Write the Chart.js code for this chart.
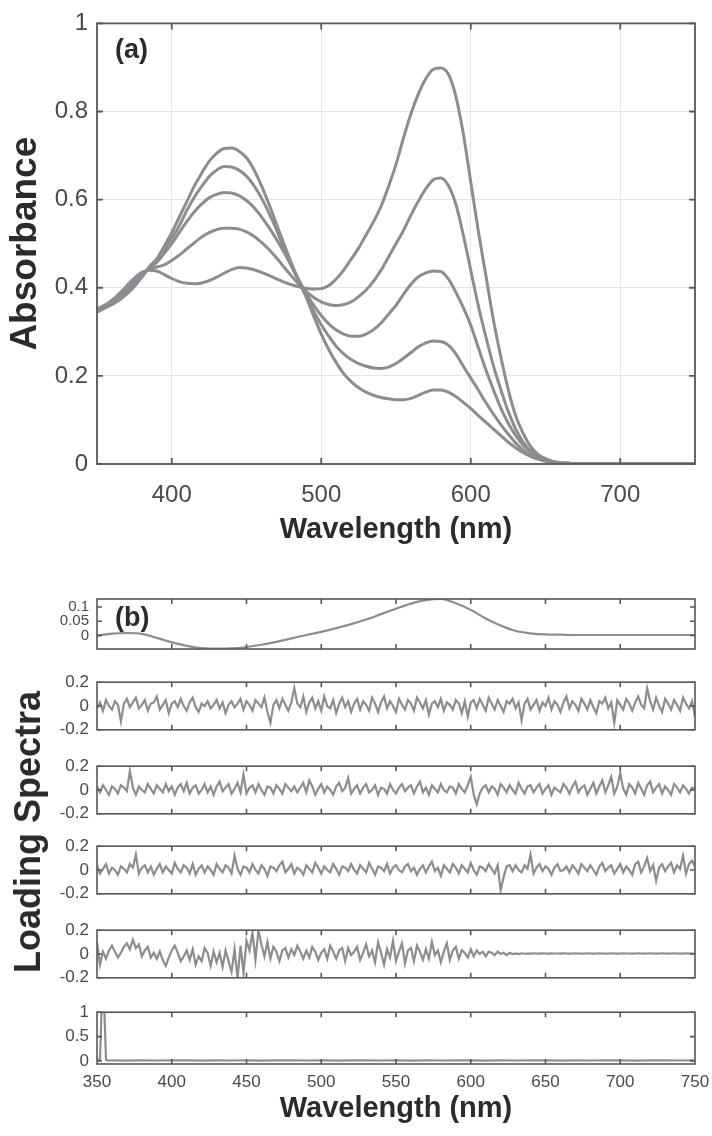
<!DOCTYPE html>
<html><head><meta charset="utf-8">
<script src="https://cdn.jsdelivr.net/npm/chart.js@4.4.0/dist/chart.umd.min.js"></script>
<style>
html,body{margin:0;padding:0;background:#fff;}
#wrap{position:relative;width:712px;height:1136px;overflow:hidden;background:#fff;}
canvas{position:absolute;left:0;}
#ylab{position:absolute;left:28px;top:832px;transform:translate(-50%,-50%) rotate(-90deg);font:bold 36px "Liberation Sans",Arial,sans-serif;color:#2b2b2b;white-space:nowrap;}
</style></head><body>
<div id="wrap">
<canvas id="cA" width="712" height="560" style="top:0"></canvas>
<canvas id="c1" width="712" height="84" style="top:582px"></canvas>
<canvas id="c2" width="712" height="84" style="top:664px"></canvas>
<canvas id="c3" width="712" height="84" style="top:748px"></canvas>
<canvas id="c4" width="712" height="84" style="top:828px"></canvas>
<canvas id="c5" width="712" height="84" style="top:912px"></canvas>
<canvas id="c6" width="712" height="142" style="top:994px"></canvas>
<div id="ylab">Loading Spectra</div>
</div>
<script>
// ---------- DATA ----------
const wavelengths = [
350,355,360,365,370,375,380,385,390,395,
400,405,410,415,420,425,430,435,440,445,
450,455,460,465,470,475,480,485,490,495,
500,505,510,515,520,525,530,535,540,545,
550,555,560,565,570,575,580,585,590,595,
600,605,610,615,620,625,630,635,640,645,
650,655,660,665,670,675,680,685,690,695,
700,705,710,715,720,725,730,735,740,745,
750];
const absA = [
.352,.360,.372,.387,.405,.422,.435,.440,.438,.430,
.421,.414,.410,.409,.411,.416,.424,.433,.441,.446,
.445,.441,.435,.428,.420,.413,.407,.402,.399,.397,
.398,.405,.420,.440,.465,.490,.520,.550,.585,.630,
.680,.740,.795,.840,.875,.896,.899,.885,.835,.750,
.640,.530,.430,.330,.245,.170,.110,.070,.040,.022,
.012,.006,.003,.0015,.001,.001,.001,.001,.001,.001,
.001,.001,.001,.001,.001,.001,.001,.001,.001,.001,
.001];
const absB = [
.350,.358,.369,.382,.398,.415,.430,.442,.447,.452,
.462,.474,.488,.502,.515,.525,.532,.535,.535,.533,
.527,.517,.503,.487,.468,.447,.427,.408,.392,.378,
.368,.362,.360,.362,.368,.380,.395,.415,.440,.470,
.500,.530,.565,.597,.625,.645,.649,.632,.590,.520,
.440,.360,.290,.225,.170,.120,.080,.050,.030,.017,
.010,.005,.003,.0015,.001,.001,.001,.001,.001,.001,
.001,.001,.001,.001,.001,.001,.001,.001,.001,.001,
.001];
const absC = [
.348,.356,.366,.378,.393,.410,.427,.444,.458,.478,
.500,.525,.550,.572,.590,.604,.612,.616,.615,.609,
.598,.582,.561,.537,.510,.481,.450,.418,.387,.360,
.337,.318,.304,.295,.290,.290,.295,.305,.320,.340,
.360,.385,.408,.425,.434,.438,.437,.420,.390,.355,
.315,.265,.215,.170,.128,.093,.065,.043,.027,.016,
.009,.005,.0025,.0015,.001,.001,.001,.001,.001,.001,
.001,.001,.001,.001,.001,.001,.001,.001,.001,.001,
.001];
const absD = [
.347,.355,.364,.375,.389,.406,.425,.446,.462,.487,
.512,.540,.575,.605,.630,.652,.667,.675,.674,.667,
.653,.632,.604,.570,.532,.490,.450,.415,.380,.347,
.316,.290,.267,.250,.237,.228,.222,.218,.217,.220,
.228,.240,.253,.266,.275,.279,.278,.270,.250,.222,
.195,.168,.140,.114,.090,.068,.048,.032,.020,.012,
.007,.004,.002,.0015,.001,.001,.001,.001,.001,.001,
.001,.001,.001,.001,.001,.001,.001,.001,.001,.001,
.001];
const absE = [
.345,.353,.362,.372,.386,.403,.424,.448,.466,.495,
.525,.560,.595,.630,.660,.687,.705,.716,.717,.710,
.695,.668,.632,.590,.545,.500,.456,.416,.378,.335,
.295,.260,.230,.205,.187,.173,.163,.156,.151,.148,
.146,.146,.149,.156,.163,.168,.168,.163,.153,.140,
.126,.110,.095,.080,.065,.050,.037,.026,.017,.011,
.006,.0035,.002,.0015,.001,.001,.001,.001,.001,.001,
.001,.001,.001,.001,.001,.001,.001,.001,.001,.001,
.001];

const loadWl = [350,360,370,380,390,400,410,420,430,440,450,460,470,480,490,500,510,520,530,540,
550,560,570,580,590,600,610,620,630,640,650,660,670,680,690,700,710,720,730,740,750];
const load1 = [
.000,.007,.009,.006,-.008,-.024,-.036,-.044,-.046,-.045,
-.040,-.032,-.022,-.010,.002,.013,.026,.040,.056,.075,
.094,.112,.124,.128,.113,.090,.060,.035,.016,.008,
.004,.003,.002,.002,.002,.002,.002,.002,.002,.002,
.002];

const noiseWl = [
350,352,354,356,358,360,362,364,366,368,
370,372,374,376,378,380,382,384,386,388,
390,392,394,396,398,400,402,404,406,408,
410,412,414,416,418,420,422,424,426,428,
430,432,434,436,438,440,442,444,446,448,
450,452,454,456,458,460,462,464,466,468,
470,472,474,476,478,480,482,484,486,488,
490,492,494,496,498,500,502,504,506,508,
510,512,514,516,518,520,522,524,526,528,
530,532,534,536,538,540,542,544,546,548,
550,552,554,556,558,560,562,564,566,568,
570,572,574,576,578,580,582,584,586,588,
590,592,594,596,598,600,602,604,606,608,
610,612,614,616,618,620,622,624,626,628,
630,632,634,636,638,640,642,644,646,648,
650,652,654,656,658,660,662,664,666,668,
670,672,674,676,678,680,682,684,686,688,
690,692,694,696,698,700,702,704,706,708,
710,712,714,716,718,720,722,724,726,728,
730,732,734,736,738,740,742,744,746,748,
750];
const load2 = [
-.02,.03,-.04,.05,.00,-.03,.04,.01,-.13,.02,
.06,-.01,.03,.07,-.02,.01,.05,-.04,.02,.03,
.08,-.03,.01,.05,-.06,.02,.04,-.01,.06,.00,
-.04,.03,.07,-.01,-.05,.02,.00,.04,-.02,.01,
.05,-.02,.03,-.06,.01,.04,-.01,.02,.06,-.03,
.04,.01,-.04,.05,.02,-.01,.07,-.05,-.14,.01,
.05,-.02,.06,.01,-.04,.03,.15,.02,-.01,.08,
-.05,.03,.07,-.02,.04,-.04,.08,.00,-.02,.05,
-.06,.02,.07,-.01,.04,-.05,.02,.06,-.03,.04,
.01,-.04,.07,.02,-.05,.03,.08,-.02,.04,.00,
-.05,.06,.01,-.03,.05,.02,-.04,.07,.03,-.02,
.05,-.07,.02,.04,-.01,.06,-.04,.03,.01,-.03,
.05,.02,-.06,.04,-.09,.03,.05,-.02,.06,.01,
-.04,.07,.02,-.03,.05,.00,-.05,.04,.02,.06,
-.02,.03,-.12,.02,.06,-.03,.01,.05,-.04,.03,
.00,.07,-.03,.04,.01,-.05,.03,.08,-.02,.04,
.01,-.04,.06,.02,-.03,.05,-.01,-.06,.04,.02,
.07,-.02,.03,-.14,.05,.01,-.03,.06,.02,-.04,
.03,.08,.01,-.02,.15,.04,-.03,.07,.00,-.05,
.06,.02,-.03,.05,.01,-.04,.07,.02,-.02,.04,
-.09];
const load3 = [
.03,-.02,.04,.00,-.04,.03,.01,-.03,.04,.02,
-.01,.16,.02,-.04,.03,.00,-.02,.05,.01,-.03,
.04,.01,-.02,.05,-.01,.03,-.04,.02,.05,-.01,
.06,-.03,.02,.04,-.03,.00,.05,-.02,.03,-.04,
.03,.07,-.01,.02,.05,-.03,.01,.06,-.02,.13,
-.03,.02,.04,-.02,.05,.00,-.04,.03,.02,-.03,
.04,.01,-.03,.05,.02,-.01,.03,-.02,.02,.06,
-.02,.08,.03,-.04,.01,.05,-.02,.03,.00,-.04,
.03,.06,-.01,.02,.10,-.03,.01,.04,-.03,.02,
.05,-.02,.00,.04,-.04,.02,.01,-.03,.05,.00,
-.03,.02,.05,-.01,.02,.04,-.03,.03,.07,-.02,
.02,-.04,.04,.01,-.02,.05,.00,-.02,.03,.02,
-.03,.05,.01,-.02,.04,.11,-.04,-.12,-.03,.02,
.04,-.02,.03,.01,-.04,.05,.02,-.02,.04,.00,
-.03,.06,.01,-.03,.03,.04,-.02,.02,.05,-.03,
.01,.04,-.04,.02,.00,-.02,.05,.02,-.03,.03,
.07,-.02,.02,.04,-.04,.01,.06,-.03,.03,.08,
-.02,.04,.11,-.03,.03,.14,.01,-.04,.05,.02,
-.03,.06,.01,-.04,.04,.07,-.02,.02,.05,-.03,
.03,.00,-.04,.05,.02,-.02,.04,.01,-.03,.02,
.01];
const load4 = [
.04,-.03,.01,.05,-.03,.02,.00,-.04,.03,.01,
-.02,.05,.02,.13,-.03,.02,.04,-.02,.03,-.04,
.01,.05,-.02,.03,.00,-.03,.06,.01,-.02,.04,
.02,-.03,.05,-.04,.01,.04,-.02,.03,.00,-.04,
.05,.01,-.02,.04,.02,-.03,.12,.01,-.04,.03,
.02,-.02,.05,.00,-.03,.04,.01,-.05,.03,.02,
-.01,.04,.07,-.02,.01,.05,-.03,.02,.00,-.04,
.04,.01,-.02,.06,.02,-.03,.03,.00,-.02,.05,
.01,-.04,.03,.02,-.01,.05,.00,-.03,.04,.01,
-.02,.06,.01,-.04,.03,.02,-.01,.05,-.03,.02,
.04,.00,-.02,.03,.05,-.01,.02,-.04,.01,.04,
-.02,.03,.07,-.01,.02,-.05,.04,.01,-.02,.05,
.02,-.03,.04,.01,-.02,.06,.00,-.04,.03,.02,
-.01,.05,.01,-.03,.04,-.17,-.06,.03,.04,-.01,
.04,.00,-.02,.04,.01,.13,-.03,.02,.05,-.01,
.03,.01,-.04,.02,.05,-.01,.00,.03,-.02,.04,
.01,-.03,.05,.02,-.01,.04,.00,-.04,.03,.06,
-.01,.02,.04,-.03,.01,.05,-.02,.03,.00,-.04,
.05,.07,-.02,.03,.10,-.01,.04,-.09,.02,.05,
-.01,.03,.06,-.02,.04,.01,.12,-.03,.05,.08,
.03];
const load5 = [
.10,-.09,.02,-.04,.03,.07,.02,-.03,.01,.06,
.09,.04,.12,.05,.08,-.02,.03,.06,-.03,.01,
-.04,.02,-.05,-.10,-.03,.03,.07,.01,-.06,-.02,
.03,-.05,.04,-.09,-.02,-.06,.05,.01,-.10,.02,
-.07,.01,-.11,.03,-.06,-.15,.04,-.21,.07,-.16,
.11,.03,.18,-.05,.20,.08,-.02,.10,-.04,.06,
.02,-.06,.03,.05,-.03,.04,-.01,.07,.02,-.04,
.03,-.03,.06,.02,-.05,.01,.04,-.04,.07,.02,
-.04,.03,.05,-.06,.05,-.01,.02,.06,-.05,.01,
.08,-.02,.03,-.07,.10,.01,-.09,.04,-.03,.11,
-.06,.02,.09,-.08,.03,.05,-.06,.07,.02,-.05,
.04,-.04,.10,-.01,.03,-.07,.02,.09,-.05,.03,
.06,-.04,.03,.01,-.03,.04,-.02,.03,.00,.02,
-.02,.02,.01,-.01,.02,.00,.01,-.01,.01,.00,
.005,.000,.006,.002,.004,.003,.005,.004,.003,.005,
.004,.003,.005,.004,.004,.003,.005,.004,.003,.004,
.005,.004,.003,.004,.005,.004,.003,.004,.005,.004,
.003,.004,.005,.004,.003,.004,.005,.004,.004,.003,
.004,.005,.004,.003,.004,.005,.004,.003,.004,.005,
.004,.003,.004,.005,.004,.003,.004,.005,.004,.004,
.004];
const p6Wl = [350,351,352,353,354,355,356,357,358,
360,370,380,390,400,410,420,430,440,450,460,470,480,490,500,510,520,530,540,550,
560,570,580,590,600,610,620,630,640,650,660,670,680,690,700,710,720,730,740,750];
const load6 = [.02,.03,.02,1.0,1.0,.99,.03,.015,.012,
.014,.011,.015,.012,.013,.016,.011,.014,.012,.015,.011,.013,.016,.012,.014,.011,.015,.013,.012,.016,
.011,.014,.012,.015,.013,.011,.016,.012,.014,.013,.011,.015,.012,.014,.016,.011,.013,.015,.012,.014];

// tick values and labels
const topXTicks = [400,500,600,700];
const topXLabels = ['400','500','600','700'];
const topYTicks = [0,0.2,0.4,0.6,0.8,1];
const topYLabels = ['0','0.2','0.4','0.6','0.8','1'];
const botXTicks = [350,400,450,500,550,600,650,700,750];
const botXLabels = ['350','400','450','500','550','600','650','700','750'];
const p1YTicks = [0,0.05,0.1];
const p1YLabels = ['0','0.05','0.1'];
const nYTicks = [-0.2,0,0.2];
const nYLabels = ['-0.2','0','0.2'];
const p6YTicks = [0,0.5,1];
const p6YLabels = ['0','0.5','1'];

// ---------- STYLE ----------
const FONT = "'Liberation Sans', Arial, Helvetica, sans-serif";
Chart.defaults.font.family = FONT;
const LINE = '#8d8d91';
const GRID = '#e4e4e4';
const TICK = '#4a4a4a';
const TITLE = '#2b2b2b';
const FRAME = '#575757';

const framePlugin = {
  id: 'frame',
  afterDatasetsDraw(chart, args, o) {
    const {ctx, chartArea: a} = chart;
    const x = chart.scales.x, y = chart.scales.y;
    ctx.save();
    ctx.strokeStyle = FRAME;
    ctx.lineWidth = o.width || 1.5;
    ctx.beginPath();
    (o.xTicks || []).forEach(v => {
      const px = x.getPixelForValue(v);
      ctx.moveTo(px, a.top); ctx.lineTo(px, a.top + o.len);
      ctx.moveTo(px, a.bottom); ctx.lineTo(px, a.bottom - o.len);
    });
    (o.yTicks || []).forEach(v => {
      const py = y.getPixelForValue(v);
      ctx.moveTo(a.left, py); ctx.lineTo(a.left + o.len, py);
      ctx.moveTo(a.right, py); ctx.lineTo(a.right - o.len, py);
    });
    ctx.stroke();
    ctx.strokeRect(a.left, a.top, a.right - a.left, a.bottom - a.top);
    if (o.label) {
      ctx.fillStyle = TITLE;
      ctx.font = 'bold 27px ' + FONT;
      ctx.textBaseline = 'middle';
      ctx.textAlign = 'left';
      ctx.fillText(o.label, a.left + o.lx, a.top + o.ly);
    }
    ctx.restore();
  }
};

function pts(xs, ys) { return xs.map((w, i) => ({x: w, y: ys[i]})); }
function setTicks(vals) { return s => { s.ticks = vals.map(v => ({value: v})); }; }

// ---------- TOP CHART (a) ----------
new Chart(document.getElementById('cA'), {
  type: 'line',
  data: { datasets: [absA, absB, absC, absD, absE].map(s => ({
    data: pts(wavelengths, s), borderColor: LINE, borderWidth: 3, pointRadius: 0,
    cubicInterpolationMode: 'monotone', fill: false })) },
  options: {
    responsive: false, animation: false, events: [],
    layout: { padding: { top: 14, right: 17, left: 0, bottom: 0 } },
    plugins: { legend: {display: false}, tooltip: {enabled: false},
      frame: { xTicks: topXTicks, yTicks: topYTicks, len: 6, width: 1.8, label: '(a)', lx: 18, ly: 27 } },
    scales: {
      x: { type: 'linear', min: 350, max: 750,
        afterBuildTicks: setTicks(topXTicks), afterFit: s => { s.height = 96; },
        grid: { color: GRID, lineWidth: 1, drawTicks: false }, border: {display: false},
        ticks: { autoSkip: false, maxRotation: 0, padding: 17, color: TICK, font: {size: 24},
          callback: (v, i) => topXLabels[i] },
        title: { display: true, text: 'Wavelength (nm)', color: TITLE,
          font: {size: 29, weight: 'bold'}, padding: {top: 0, bottom: 13} } },
      y: { type: 'linear', min: 0, max: 1,
        afterBuildTicks: setTicks(topYTicks), afterFit: s => { s.width = 97; },
        grid: { color: GRID, lineWidth: 1, drawTicks: false }, border: {display: false},
        ticks: { autoSkip: false, padding: 9, color: TICK, font: {size: 24},
          callback: (v, i) => topYLabels[i] },
        title: { display: true, text: 'Absorbance', color: TITLE,
          font: {size: 37, weight: 'bold'}, padding: {top: 4, bottom: 0} } }
    }
  },
  plugins: [framePlugin]
});

// ---------- BOTTOM PANELS (b) ----------
function panel(id, xs, ys, yMin, yMax, yTicks, yLabels, opts) {
  const last = !!opts.last;
  return new Chart(document.getElementById(id), {
    type: 'line',
    data: { datasets: [{ data: pts(xs, ys), borderColor: LINE, borderWidth: opts.bw || 2.2,
      pointRadius: 0, fill: false, cubicInterpolationMode: opts.smooth ? 'monotone' : 'default', tension: 0 }] },
    options: {
      responsive: false, animation: false, events: [],
      layout: { padding: { top: 14, right: 17, left: 0, bottom: last ? 0 : 14 } },
      plugins: { legend: {display: false}, tooltip: {enabled: false},
        frame: { xTicks: [400,450,500,550,600,650,700], yTicks: yTicks, len: 5, width: 1.6,
          label: opts.label, lx: 18, ly: 20 } },
      scales: {
        x: { type: 'linear', min: 350, max: 750, display: last,
          afterBuildTicks: setTicks(botXTicks),
          afterFit: s => { if (last) s.height = 72; s.paddingLeft = 0; s.paddingRight = 0; },
          grid: { display: false, drawTicks: false }, border: {display: false},
          ticks: { autoSkip: false, maxRotation: 0, padding: 8, color: TICK, font: {size: 17},
            callback: (v, i) => botXLabels[i] },
          title: { display: last, text: 'Wavelength (nm)', color: TITLE,
            font: {size: 29, weight: 'bold'}, padding: {top: 0, bottom: 10} } },
        y: { type: 'linear', min: yMin, max: yMax,
          afterBuildTicks: setTicks(yTicks), afterFit: s => { s.width = 97; },
          grid: { display: false, drawTicks: false }, border: {display: false},
          ticks: { autoSkip: false, padding: 8, color: TICK, font: {size: opts.fs || 17},
            callback: (v, i) => yLabels[i] } }
      }
    },
    plugins: [framePlugin]
  });
}

panel('c1', loadWl, load1, -0.047, 0.128, p1YTicks, p1YLabels, {label: '(b)', smooth: true, fs: 15, bw: 2.2});
panel('c2', noiseWl, load2, -0.2, 0.2, nYTicks, nYLabels, {});
panel('c3', noiseWl, load3, -0.2, 0.2, nYTicks, nYLabels, {});
panel('c4', noiseWl, load4, -0.2, 0.2, nYTicks, nYLabels, {});
panel('c5', noiseWl, load5, -0.2, 0.2, nYTicks, nYLabels, {});
panel('c6', p6Wl, load6, -0.06, 1.0, p6YTicks, p6YLabels, {last: true});
</script>
</body></html>
